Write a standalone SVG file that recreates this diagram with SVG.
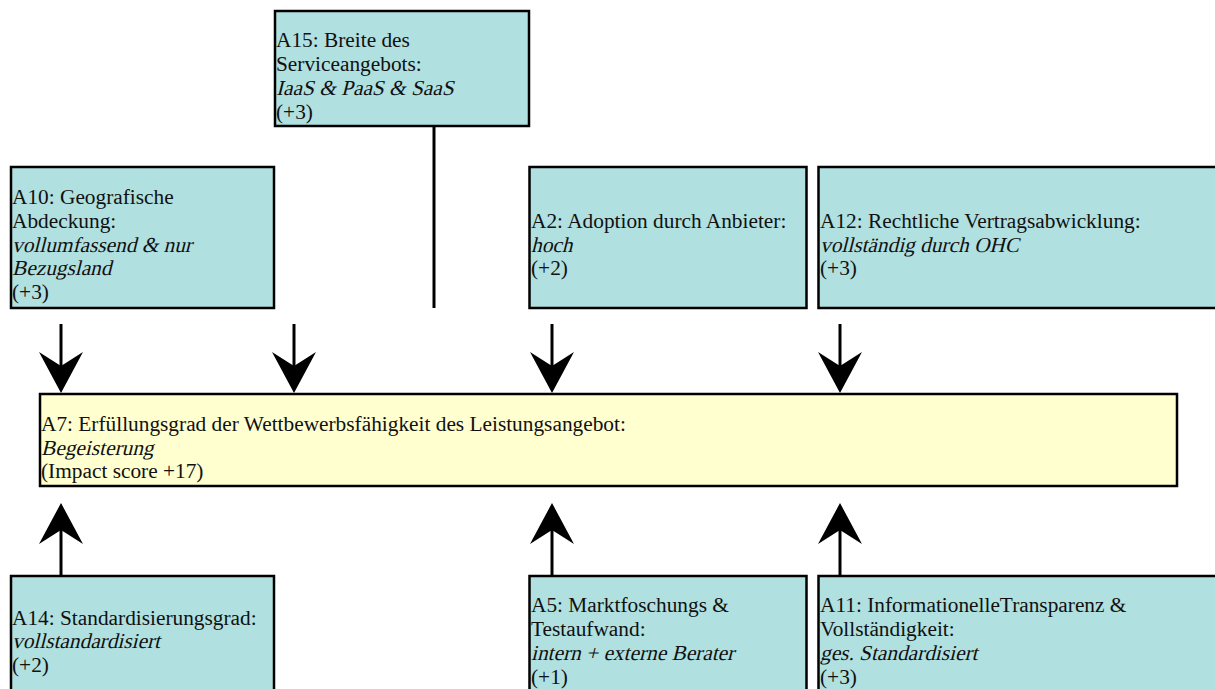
<svg xmlns="http://www.w3.org/2000/svg" width="1215" height="689" viewBox="0 0 1215 689">
  <defs>
    <style>
      .factor { fill: #B0E0E0; stroke: #000; stroke-width: 2.5; }
      .target { fill: #FFFFD0; stroke: #000; stroke-width: 2.5; }
      text { font-family: "Liberation Serif", "Times New Roman", serif; font-size: 21.33px; fill: #111; }
      .conn { stroke: #000; stroke-width: 3; fill: none; }
      .arrow { stroke: #000; stroke-width: 3; fill: none; marker-end: url(#head); }
    </style>
    <!-- barbed arrowhead; reference point sits on the notch so the shaft ends there -->
    <marker id="head" markerUnits="userSpaceOnUse" viewBox="-45 -25 50 50" refX="-27" refY="0" markerWidth="50" markerHeight="50" orient="auto">
      <path d="M0,0 L-41,-22 L-27,0 L-41,22 Z" fill="#000"/>
    </marker>
  </defs>

  <rect width="1215" height="689" fill="#fff"/>

  <!-- connectors -->
  <g id="connectors">
    <line class="conn" x1="434" y1="126" x2="434" y2="308"/>
    <line class="arrow" x1="61" y1="324" x2="61" y2="366"/>
    <line class="arrow" x1="294" y1="324" x2="294" y2="366"/>
    <line class="arrow" x1="552" y1="324" x2="552" y2="366"/>
    <line class="arrow" x1="840" y1="324" x2="840" y2="366"/>
    <line class="arrow" x1="61" y1="576" x2="61" y2="530"/>
    <line class="arrow" x1="552" y1="576" x2="552" y2="530"/>
    <line class="arrow" x1="840" y1="576" x2="840" y2="530"/>
  </g>

  <!-- value lines are slanted with skewX, anchored at their baseline start -->
  <g id="A15">
    <rect class="factor" x="275" y="11" width="254" height="115"/>
    <text x="276" y="47">A15: Breite des</text>
    <text x="276" y="71">Serviceangebots:</text>
    <text transform="translate(276,95) skewX(-14)">IaaS &amp; PaaS &amp; SaaS</text>
    <text x="276" y="119">(+3)</text>
  </g>

  <g id="A10">
    <rect class="factor" x="11" y="167" width="263" height="141"/>
    <text x="12" y="204">A10: Geografische</text>
    <text x="12" y="228">Abdeckung:</text>
    <text transform="translate(12,252) skewX(-14)">vollumfassend &amp; nur</text>
    <text transform="translate(12,275) skewX(-14)">Bezugsland</text>
    <text x="12" y="299">(+3)</text>
  </g>

  <g id="A2">
    <rect class="factor" x="529.5" y="167" width="277" height="141"/>
    <text x="531" y="228">A2: Adoption durch Anbieter:</text>
    <text transform="translate(531,252) skewX(-14)">hoch</text>
    <text x="531" y="275">(+2)</text>
  </g>

  <g id="A12">
    <rect class="factor" x="818.5" y="167" width="410" height="141"/>
    <text x="820" y="228">A12: Rechtliche Vertragsabwicklung:</text>
    <text transform="translate(820,252) skewX(-14)">vollständig durch OHC</text>
    <text x="820" y="275">(+3)</text>
  </g>

  <g id="A7">
    <rect class="target" x="40" y="394" width="1137" height="92"/>
    <text x="41" y="431">A7: Erfüllungsgrad der Wettbewerbsfähigkeit des Leistungsangebot:</text>
    <text transform="translate(41,455) skewX(-14)">Begeisterung</text>
    <text x="41" y="478">(Impact score +17)</text>
  </g>

  <g id="A14">
    <rect class="factor" x="11" y="576" width="263" height="130"/>
    <text x="12" y="625">A14: Standardisierungsgrad:</text>
    <text transform="translate(12,648) skewX(-14)">vollstandardisiert</text>
    <text x="12" y="672">(+2)</text>
  </g>

  <g id="A5">
    <rect class="factor" x="529.5" y="576" width="277" height="130"/>
    <text x="531" y="612">A5: Marktfoschungs &amp;</text>
    <text x="531" y="636">Testaufwand:</text>
    <text transform="translate(531,660) skewX(-14)">intern + externe Berater</text>
    <text x="531" y="684">(+1)</text>
  </g>

  <g id="A11">
    <rect class="factor" x="818.5" y="576" width="410" height="130"/>
    <text x="820" y="612">A11: InformationelleTransparenz &amp;</text>
    <text x="820" y="636">Vollständigkeit:</text>
    <text transform="translate(820,660) skewX(-14)">ges. Standardisiert</text>
    <text x="820" y="684">(+3)</text>
  </g>
</svg>
